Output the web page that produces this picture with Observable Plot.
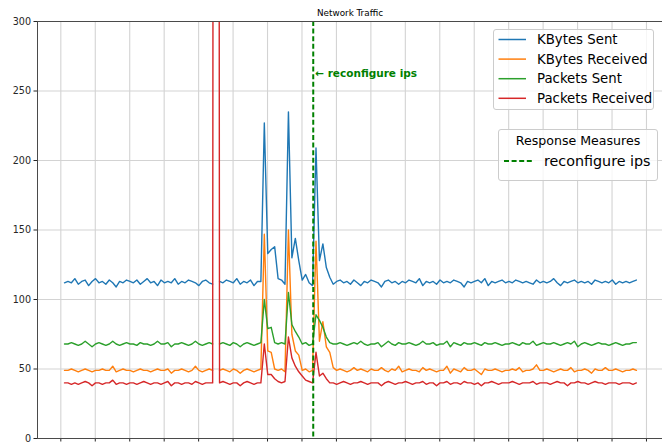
<!DOCTYPE html>
<html><head><meta charset="utf-8">
<script src="https://cdn.jsdelivr.net/npm/d3@7"></script>
<script src="https://cdn.jsdelivr.net/npm/@observablehq/plot@0.6"></script>
<style>
html,body{margin:0;padding:0;background:#fff;}
#wrap{position:relative;width:662px;height:443px;font-family:"DejaVu Sans",sans-serif;overflow:hidden;}
.legend{position:absolute;background:rgba(255,255,255,0.8);border:1px solid #cccccc;border-radius:3px;box-sizing:border-box;}
.legend svg{position:absolute;left:0;top:0;overflow:visible;}
</style></head><body><div id="wrap"></div>
<script>
const chartTitle = "Network Traffic";
const seriesNames = ["KBytes Sent", "KBytes Received", "Packets Sent", "Packets Received"];
const seriesColors = ["#1f77b4", "#ff7f0e", "#2ca02c", "#d62728"];

const kbytesSent = [
112,113,112,115,111,113,114,110,113,115,
112,113,111,114,112,109,113,112,114,113,
112,114,111,113,115,112,113,110,114,112,
113,112,115,111,113,112,114,113,112,110,
113,114,112,111,
null,
113,112,114,113,112,
115,111,113,112,114,110,113,113,
227,133,136,138,115,114,111,235,130,144,128,114,118,112,110,209,128,140,123,116,111,113,
114,112,113,111,114,112,110,113,112,114,
113,112,109,113,114,112,113,111,113,112,
114,113,112,115,110,113,112,113,111,114,
112,113,112,114,113,112,109,113,112,113,
114,112,115,110,113,112,113,114,112,113,
112,114,113,112,113,112,111,114,112,113,
112,113,115,112,110,113,112,113,114,112,
113,112,113,111,114,113,112,113,112,114,
111,113,112,113,112,113,114];

const kbytesReceived = [
49,49,50,49,48,49,50,49,48,49,
49,50,49,49,52,48,49,50,49,49,
48,49,50,49,49,48,49,50,49,49,
50,47,49,49,50,49,48,49,52,49,
48,49,50,49,
null,
49,50,49,48,50,
49,47,49,50,49,48,49,50,
147,63,62,50,49,50,48,150,75,63,60,49,50,48,49,142,70,84,66,62,51,49,
50,49,48,49,51,49,50,49,48,50,
49,49,51,49,48,50,49,52,48,49,
50,49,49,48,51,49,50,49,48,49,
49,52,47,50,49,48,51,49,49,50,
48,46,50,49,49,50,49,48,49,49,
50,49,51,48,49,49,50,53,49,49,
50,49,48,49,50,49,49,51,48,49,
49,50,49,47,50,49,49,51,49,49,
50,49,48,49,49,50,49];

const packetsSent = [
68,68,69,68,67,68,70,68,66,68,
69,68,67,68,70,68,67,68,69,68,
68,67,69,68,68,67,68,70,68,68,
69,66,68,68,69,68,67,68,70,68,
67,68,69,68,
null,
68,69,68,67,69,
68,66,68,69,68,67,68,69,
100,79,80,69,68,69,68,105,82,77,73,68,69,67,68,89,85,80,73,69,68,68,
69,68,67,68,69,68,70,68,67,68,
68,69,66,68,70,68,67,69,68,68,
69,68,67,68,70,68,68,69,67,68,
68,70,66,69,68,67,69,68,68,69,
68,67,69,68,68,69,68,67,68,68,
69,68,67,69,68,68,70,67,68,69,
68,68,69,68,67,68,69,68,70,66,
68,69,68,67,68,69,68,68,67,68,
69,68,67,68,68,69,69];

const packetsReceived = [
40,40,39,40,39,40,41,40,38,40,
40,39,40,40,42,39,40,40,39,40,
40,39,40,41,40,39,40,40,39,40,
41,38,40,40,39,40,40,39,41,40,
39,40,40,40,
3000,
40,41,40,39,40,
40,38,40,41,40,39,40,40,
68,46,46,43,41,40,41,73,58,52,48,45,42,41,40,62,45,47,43,40,40,39,
40,41,40,39,40,40,41,40,39,40,
40,40,38,40,41,40,39,40,40,41,
40,39,40,40,41,39,40,40,38,40,
40,41,39,40,40,39,41,40,40,39,
40,38,40,40,41,40,39,40,40,40,
41,40,39,40,40,40,41,39,40,40,
40,39,40,41,40,40,38,40,40,41,
40,40,39,40,41,40,40,39,40,40,
40,39,40,40,40,39,40];

const yTicks = [0, 50, 100, 150, 200, 250, 300];
const xTicks = [-1.07, 8.93, 18.93, 28.93, 38.93, 48.93, 58.93, 68.93, 78.93, 88.93, 98.93, 108.93, 118.93, 128.93, 138.93, 148.93, 158.93, 168.93];
const xDomain = [-7.84, 173.58];
const yDomain = [0, 300];

const eventLegendTitle = "Response Measures";
const eventNames = ["reconfigure ips"];
const eventIndex = [72.2];
const eventLabelValue = [262.6];
const eventColor = "green";

const allSeries = [kbytesSent, kbytesReceived, packetsSent, packetsReceived];
const rows = allSeries.map((arr, s) => arr.map((v, i) => ({i, v, series: seriesNames[s]})));
const events = eventNames.map((name, k) => ({name, x: eventIndex[k], y: eventLabelValue[k]}));

const chart = Plot.plot({
  width: 662, height: 443,
  marginLeft: 37, marginRight: 0, marginTop: 21, marginBottom: 5,
  style: {fontFamily: "DejaVu Sans, sans-serif", fontSize: "9.6px", color: "#262626", background: "white", overflow: "visible"},
  x: {domain: xDomain, ticks: xTicks, tickFormat: () => "", tickSize: 3.5, label: null},
  y: {domain: yDomain, ticks: yTicks, tickSize: 3.5, tickPadding: 3, label: null},
  marks: [
    Plot.ruleX(xTicks, {stroke: "#d3d3d3", strokeWidth: 1.1}),
    Plot.ruleY(yTicks, {stroke: "#d3d3d3", strokeWidth: 1.1}),
    ...rows.map((r, s) => Plot.line(r, {x: "i", y: "v", stroke: seriesColors[s], strokeWidth: 1.4, strokeLinejoin: "round", clip: true})),
    Plot.ruleX(events, {x: "x", stroke: eventColor, strokeWidth: 2, strokeDasharray: "5,2.6"}),
    Plot.text(events, {x: "x", y: "y", text: d => "\u2190 " + d.name, textAnchor: "start", dx: 2, fill: eventColor, fontWeight: "bold", fontSize: 10.5}),
    Plot.ruleY([yDomain[0], yDomain[1]], {stroke: "#4a4a4a", strokeWidth: 1}),
    Plot.ruleX([xDomain[0]], {stroke: "#4a4a4a", strokeWidth: 1}),
    Plot.text([chartTitle], {frameAnchor: "top", lineAnchor: "middle", dy: -8, fontSize: 8.8, fill: "#000"})
  ]
});

const wrap = document.getElementById("wrap");
wrap.appendChild(chart);

// Series legend
const leg1 = d3.select(wrap).append("div").attr("class", "legend")
  .style("left", "493px").style("top", "29px").style("width", "161px").style("height", "81px");
const s1 = leg1.append("svg").attr("width", 161).attr("height", 81);
seriesNames.forEach((name, k) => {
  const cy = 9.5 + k * 19.6;
  s1.append("line").attr("x1", 4.5).attr("x2", 32).attr("y1", cy).attr("y2", cy)
    .attr("stroke", seriesColors[k]).attr("stroke-width", 1.5);
  s1.append("text").attr("x", 43).attr("y", cy).attr("dy", "0.36em")
    .attr("font-family", "DejaVu Sans, sans-serif").attr("font-size", 13.3).attr("fill", "#000").text(name);
});

// Events legend
const leg2 = d3.select(wrap).append("div").attr("class", "legend")
  .style("left", "498px").style("top", "129px").style("width", "160px").style("height", "52px");
const s2 = leg2.append("svg").attr("width", 160).attr("height", 52);
s2.append("text").attr("x", 79).attr("y", 10.5).attr("dy", "0.36em").attr("text-anchor", "middle")
  .attr("font-family", "DejaVu Sans, sans-serif").attr("font-size", 12.6).attr("fill", "#000").text(eventLegendTitle);
events.forEach((e, k) => {
  const cy = 31 + k * 20;
  s2.append("line").attr("x1", 5).attr("x2", 34).attr("y1", cy).attr("y2", cy)
    .attr("stroke", eventColor).attr("stroke-width", 2).attr("stroke-dasharray", "5,2.6");
  s2.append("text").attr("x", 45).attr("y", cy).attr("dy", "0.36em")
    .attr("font-family", "DejaVu Sans, sans-serif").attr("font-size", 14.3).attr("fill", "#000").text(e.name);
});
</script></body></html>
